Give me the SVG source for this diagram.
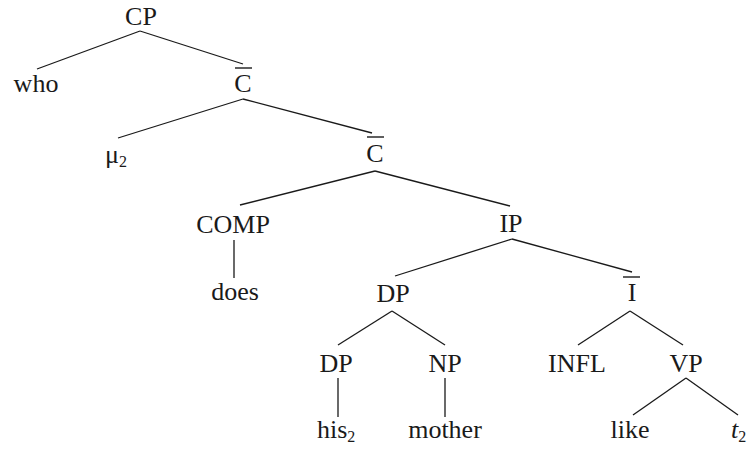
<svg xmlns="http://www.w3.org/2000/svg" width="750" height="450" viewBox="0 0 750 450">
  <style>
    .lbl { font-family: "Liberation Serif", "Times New Roman", serif; font-size: 26px; fill: #1a1a1a; text-anchor: middle; }
    .lft { text-anchor: start; }
    .sub { font-size: 16px; }
    .edge { stroke: #1a1a1a; stroke-width: 1.3; fill: none; stroke-linecap: butt; }
    .bar { stroke: #1a1a1a; stroke-width: 1.4; }
  </style>
  <rect width="750" height="450" fill="#ffffff"/>

  <g id="connectors">
    <line class="edge" x1="140" y1="31" x2="37" y2="69"/>
    <line class="edge" x1="140" y1="31" x2="243" y2="64"/>
    <line class="edge" x1="243" y1="99" x2="118" y2="138"/>
    <line class="edge" x1="243" y1="99" x2="372" y2="133"/>
    <line class="edge" x1="375" y1="171" x2="240" y2="205"/>
    <line class="edge" x1="375" y1="171" x2="510" y2="206"/>
    <line class="edge" x1="234" y1="240" x2="234" y2="278"/>
    <line class="edge" x1="512" y1="239" x2="395" y2="276"/>
    <line class="edge" x1="512" y1="239" x2="632" y2="272"/>
    <line class="edge" x1="392" y1="311" x2="338" y2="345"/>
    <line class="edge" x1="392" y1="311" x2="445" y2="345"/>
    <line class="edge" x1="338" y1="378" x2="338" y2="417"/>
    <line class="edge" x1="445" y1="378" x2="445" y2="417"/>
    <line class="edge" x1="630" y1="311" x2="578" y2="345"/>
    <line class="edge" x1="630" y1="311" x2="683" y2="345"/>
    <line class="edge" x1="686" y1="378" x2="633" y2="415"/>
    <line class="edge" x1="686" y1="378" x2="738" y2="415"/>
  </g>

  <g id="cp"><text class="lbl" x="141" y="25">CP</text></g>
  <g id="who"><text class="lbl" x="36" y="92">who</text></g>
  <g id="cbar1">
    <line class="bar" x1="235" y1="68" x2="252" y2="68"/>
    <text class="lbl" x="243" y="92">C</text>
  </g>
  <g id="mu2"><text class="lbl lft" x="105" y="163">μ<tspan class="sub" dy="4">2</tspan></text></g>
  <g id="cbar2">
    <line class="bar" x1="367" y1="137" x2="384" y2="137"/>
    <text class="lbl" x="375" y="162">C</text>
  </g>
  <g id="comp"><text class="lbl" x="233" y="233">COMP</text></g>
  <g id="does"><text class="lbl" x="235" y="300">does</text></g>
  <g id="ip"><text class="lbl" x="511" y="232">IP</text></g>
  <g id="dp"><text class="lbl" x="393" y="302">DP</text></g>
  <g id="ibar">
    <line class="bar" x1="623" y1="277" x2="640" y2="277"/>
    <text class="lbl" x="632" y="301">I</text>
  </g>
  <g id="dp2"><text class="lbl" x="336" y="372">DP</text></g>
  <g id="np"><text class="lbl" x="445" y="372">NP</text></g>
  <g id="infl"><text class="lbl" x="577" y="372">INFL</text></g>
  <g id="vp"><text class="lbl" x="686" y="372">VP</text></g>
  <g id="his2"><text class="lbl lft" x="317" y="438">his<tspan class="sub" dy="4">2</tspan></text></g>
  <g id="mother"><text class="lbl" x="445" y="438">mother</text></g>
  <g id="like"><text class="lbl" x="630" y="438">like</text></g>
  <g id="t2"><text class="lbl lft" x="731" y="438"><tspan font-style="italic">t</tspan><tspan class="sub" dy="4">2</tspan></text></g>
</svg>
